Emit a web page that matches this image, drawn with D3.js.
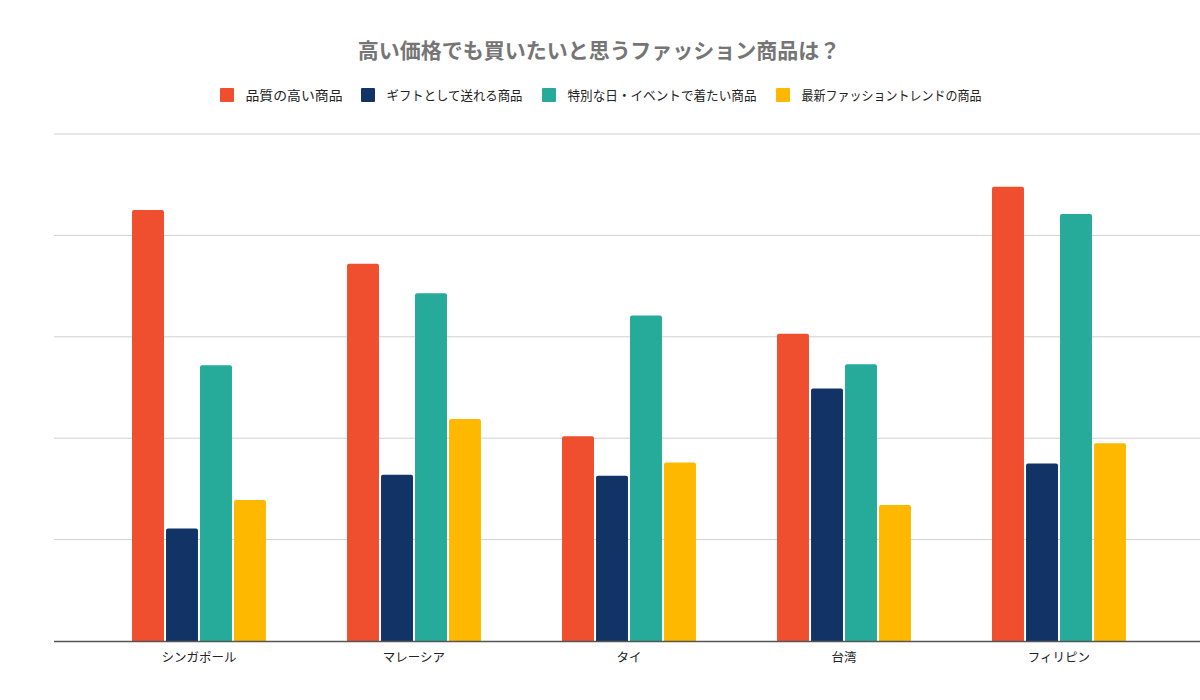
<!DOCTYPE html>
<meta charset="utf-8">
<style>
  body { margin: 0; background: #fff; font-family: "Noto Sans CJK JP", "Noto Sans", sans-serif; }
  .grid line { stroke: #d0d0d0; stroke-width: 1; }
  .title { font-size: 21px; font-weight: bold; fill: #757575; }
  .legend text { font-size: 13px; fill: #222; }
  .xaxis text { font-size: 12.5px; fill: #222; }
</style>
<body>
<script src="https://d3js.org/d3.v7.min.js"></script>
<script>
// data
const countries = ["シンガポール", "マレーシア", "タイ", "台湾", "フィリピン"];
const seriesNames = ["品質の高い商品", "ギフトとして送れる商品", "特別な日・イベントで着たい商品", "最新ファッショントレンドの商品"];
const colors = ["#ef4f2f", "#123366", "#26ab9a", "#ffb800"];
const quality  = [42.5, 37.2, 20.2, 30.3, 44.8];
const gift     = [11.1, 16.4, 16.3, 24.9, 17.5];
const special  = [27.2, 34.3, 32.1, 27.3, 42.1];
const trend    = [13.9, 21.9, 17.6, 13.4, 19.5];
const yTicks   = [0, 10, 20, 30, 40, 50];

const series = [quality, gift, special, trend];

const width = 1200, height = 700;
const svg = d3.select('body').append('svg')
  .attr('width', width)
  .attr('height', height);

const y = d3.scaleLinear().domain([0, 50]).range([641, 134]);

const x0 = d3.scaleBand()
  .domain(countries)
  .range([91.5, 1166.5])
  .paddingInner(0.377)
  .paddingOuter(0.1885);

const x1 = d3.scaleBand()
  .domain(d3.range(series.length))
  .range([0, x0.bandwidth()])
  .paddingInner(0.06);

// title
svg.append('text')
  .attr('class', 'title')
  .attr('x', 599).attr('y', 58)
  .attr('text-anchor', 'middle')
  .text('高い価格でも買いたいと思うファッション商品は？');

// legend
const legendX = [220, 361, 542, 776];
const legendW = [97, 136, 189, 180];
const legend = svg.append('g').attr('class', 'legend');
seriesNames.forEach((name, i) => {
  const g = legend.append('g').attr('transform', `translate(${legendX[i]},88)`);
  g.append('rect').attr('width', 14).attr('height', 14).attr('rx', 1).attr('fill', colors[i]);
  g.append('text').attr('x', 25.5).attr('y', 12)
    .attr('textLength', legendW[i]).attr('lengthAdjust', 'spacingAndGlyphs')
    .text(name);
});

// gridlines
svg.append('g')
  .attr('class', 'grid')
  .selectAll('line')
  .data(yTicks.slice(1))
  .enter().append('line')
  .attr('x1', 54).attr('x2', 1200)
  .attr('y1', d => y(d)).attr('y2', d => y(d));

// bars
const groups = svg.append('g').selectAll('g')
  .data(countries)
  .enter().append('g')
  .attr('transform', d => `translate(${x0(d)},0)`);

groups.selectAll('path')
  .data((d, ci) => series.map((s, si) => ({ si, v: s[ci] })))
  .enter().append('path')
  .attr('fill', d => colors[d.si])
  .attr('d', d => {
    const bx = x1(d.si), bw = x1.bandwidth(), top = y(d.v), bot = y(0), r = 2;
    return `M${bx},${bot}V${top + r}Q${bx},${top} ${bx + r},${top}H${bx + bw - r}Q${bx + bw},${top} ${bx + bw},${top + r}V${bot}Z`;
  });

// x axis
svg.append('line')
  .attr('x1', 54).attr('x2', 1200)
  .attr('y1', y(0) + 0.5).attr('y2', y(0) + 0.5)
  .attr('stroke', '#555').attr('stroke-width', 1.3);

svg.append('g')
  .attr('class', 'xaxis')
  .selectAll('text')
  .data(countries)
  .enter().append('text')
  .attr('x', d => x0(d) + x0.bandwidth() / 2)
  .attr('y', 662)
  .attr('text-anchor', 'middle')
  .text(d => d);
</script>
</body>
</html>
